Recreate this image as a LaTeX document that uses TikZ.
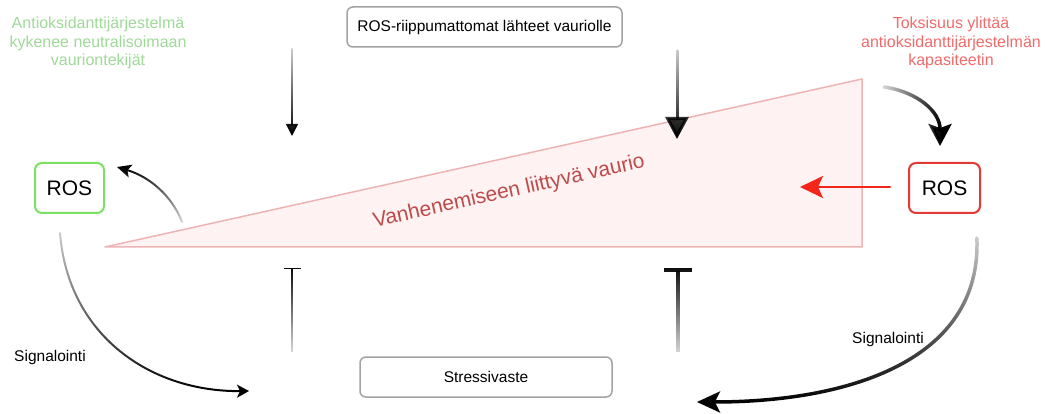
\documentclass[tikz,border=0pt]{standalone}
\usepackage{fontspec}
\setmainfont{Liberation Sans}
\usetikzlibrary{arrows.meta,fadings}
\definecolor{rosgreen}{HTML}{7BE063}
\definecolor{rosred}{HTML}{E53935}
\definecolor{antgreen}{HTML}{9FDA98}
\definecolor{toxred}{HTML}{F26B6B}
\definecolor{boxgray}{HTML}{A3A3A3}
\definecolor{dmgfill}{HTML}{FEF3F2}
\definecolor{dmgedge}{HTML}{EEB4B4}
\definecolor{dmgtext}{HTML}{BD4B4B}
\definecolor{arrred}{HTML}{F2261B}
\tikzfading[name=fadetop, top color=transparent!80, bottom color=transparent!0]
\tikzfading[name=fadebot, top color=transparent!0, bottom color=transparent!85]
\tikzfading[name=fadeleft, left color=transparent!85, right color=transparent!0]
\begin{document}
\begin{tikzpicture}[x=1pt,y=-1pt]
\tikzset{
  box/.style={draw=boxgray, line width=1.5pt, rounded corners=6pt, fill=white,
    inner sep=0pt, minimum height=40pt, font=\fontsize{15.5}{18}\selectfont},
  rosbox/.style={line width=2pt, rounded corners=7pt, fill=white, inner sep=0pt,
    minimum height=50pt, font=\fontsize{21}{24}\selectfont},
  note/.style={align=center, inner sep=0pt, font=\fontsize{16}{18.5}\selectfont},
  signal/.style={inner sep=0pt, font=\fontsize{15.5}{18}\selectfont},
  conn/.style={line cap=round}
}
\useasboundingbox (0,0) rectangle (1047,414);
\fill [white] (0,0) rectangle (1047,414);

\coordinate (tA) at (105,247);
\coordinate (tB) at (862,79);
\coordinate (tC) at (862,247);
\filldraw [fill=dmgfill, draw=dmgedge, line width=1.5pt, line join=round] (tA) -- (tB) -- (tC) -- cycle;
\node [rotate=12.5, text=dmgtext, inner sep=0pt, font=\fontsize{21}{24}\selectfont] (dmg) at (509,192) {Vanhenemiseen liittyvä vaurio};

\node [box, minimum width=275pt] (src) at (484.5,27) {ROS-riippumattomat lähteet vauriolle};
\node [box, minimum width=252pt] (resp) at (486,377) {Stressivaste};
\node [rosbox, draw=rosgreen, minimum width=69pt] (rosL) at (69.5,188) {ROS};
\node [rosbox, draw=rosred, minimum width=71pt] (rosR) at (944.5,188) {ROS};
\node [note, text=antgreen] (antiox) at (98,43) {Antioksidanttijärjestelmä\\kykenee neutralisoimaan\\vauriontekijät};
\node [note, text=toxred] (toxic) at (951,43) {Toksisuus ylittää\\antioksidanttijärjestelmän\\kapasiteetin};
\node [signal] (sigL) at (50,357) {Signalointi};
\node [signal] (sigR) at (888,339) {Signalointi};

\coordinate (srcL) at (292,49);
\coordinate (hitL) at (292,136);
\coordinate (srcR) at (677,51);
\coordinate (hitR) at (677,139);
\draw [conn, line width=1.5pt, path fading=fadetop, -{Triangle[length=12pt,width=12pt]}]
  ([xshift=-15pt]srcL) ([xshift=15pt]srcL) (srcL) -- (hitL);
\draw [conn, line width=3pt, path fading=fadetop, -{Triangle[length=22pt,width=23pt]}]
  ([xshift=-15pt]srcR) ([xshift=15pt]srcR) (srcR) -- (hitR);

\coordinate (inhL0) at (292,352);
\coordinate (inhL) at (292,268);
\coordinate (inhR0) at (678,352);
\coordinate (inhR) at (678,268);
\draw [line width=1.5pt, path fading=fadebot, -{Bar[width=17pt]}]
  ([xshift=-15pt,yshift=3pt]inhL) ([xshift=15pt,yshift=3pt]inhL) (inhL0) -- (inhL);
\draw [line width=4pt, path fading=fadebot, -{Bar[width=28pt]}]
  ([xshift=-18pt,yshift=4pt]inhR) ([xshift=18pt,yshift=4pt]inhR) (inhR0) -- (inhR);

\coordinate (dmgL) at (182,222);
\coordinate (rosLin) at (117,167);
\draw [conn, line width=2pt, path fading=fadebot, -{Stealth[length=14pt,width=13pt,inset=3pt]}]
  (dmgL) .. controls (172,196) and (150,177) .. (rosLin);

\coordinate (toxL) at (884,87);
\coordinate (rosRin) at (940,146);
\draw [conn, line width=3.5pt, path fading=fadeleft, -{Stealth[length=22pt,width=23pt,inset=4pt]}]
  (toxL) .. controls (918,92) and (940,112) .. (rosRin);

\coordinate (rosRout) at (890,187);
\coordinate (dmgin) at (800,187);
\draw [conn, draw=arrred, line width=2.5pt, -{Stealth[length=23pt,width=22pt,inset=5pt]}] (rosRout) -- (dmgin);

\coordinate (rosLout) at (60,233);
\coordinate (respL) at (249,391);
\draw [conn, line width=2pt, path fading=fadetop, -{Stealth[length=12pt,width=13pt,inset=3pt]}]
  (rosLout) .. controls (68,335) and (150,392) .. (respL);

\coordinate (rosRdn) at (977,238);
\coordinate (respR) at (697,402);
\draw [conn, line width=3.5pt, path fading=fadetop, -{Stealth[length=23pt,width=21pt,inset=5pt]}]
  (rosRdn) .. controls (982,360) and (850,402) .. (respR);
\end{tikzpicture}
\end{document}
